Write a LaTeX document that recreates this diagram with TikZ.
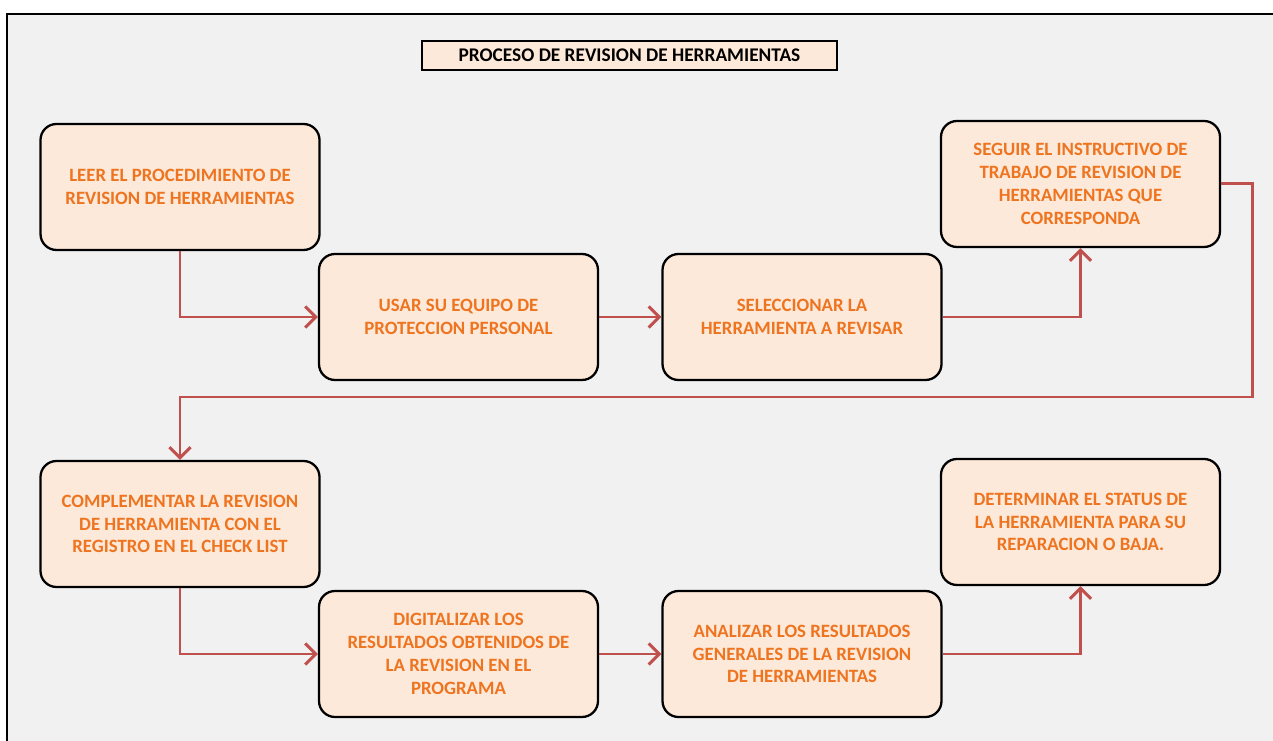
\documentclass[tikz,border=0pt]{standalone}
\usepackage{fontspec}
\setmainfont{Carlito}
\usepackage{xcolor}
\usetikzlibrary{arrows.meta}
\definecolor{boxfill}{HTML}{FDE9D9}
\definecolor{boxtext}{HTML}{EE7420}
\definecolor{flowred}{HTML}{C0504D}
\definecolor{paper}{HTML}{F1F1F1}

\begin{document}
\begin{tikzpicture}[
    stepbox/.style={draw, line width=1.3pt, rounded corners=0.32cm, fill=boxfill,
        minimum width=5.58cm, minimum height=2.52cm, align=center,
        text=boxtext, font=\fontsize{10.7}{13}\selectfont\bfseries},
    titlebox/.style={draw, line width=1.3pt, fill=boxfill, minimum width=8.3cm,
        minimum height=0.58cm, inner sep=0pt, font=\fontsize{11}{13}\selectfont\bfseries},
    flow/.style={draw=flowred, line width=1.7pt, -{Straight Barb[length=6pt,width=12pt,line width=1.7pt]}}
]
        \useasboundingbox (0, 0) rectangle (25.46, -14.82);
        \fill [paper] (0.14, -0.28) rectangle (25.46, -14.82);
        \draw [line width=1.3pt] (0.14, -14.82) -- (0.14, -0.28) -- (25.46, -0.28);
        \node (title) at (12.59, -1.11) [titlebox] {PROCESO DE REVISION DE HERRAMIENTAS};
        \node (b1) at (3.6, -3.74) [stepbox] {LEER EL PROCEDIMIENTO DE\\REVISION DE HERRAMIENTAS};
        \node (b2) at (9.17, -6.34) [stepbox] {USAR SU EQUIPO DE\\PROTECCION PERSONAL};
        \node (b3) at (16.04, -6.34) [stepbox] {SELECCIONAR LA\\HERRAMIENTA A REVISAR};
        \node (b4) at (21.61, -3.68) [stepbox] {SEGUIR EL INSTRUCTIVO DE\\TRABAJO DE REVISION DE\\HERRAMIENTAS QUE\\CORRESPONDA};
        \node (b5) at (3.6, -10.48) [stepbox] {COMPLEMENTAR LA REVISION\\DE HERRAMIENTA CON EL\\REGISTRO EN EL CHECK LIST};
        \node (b6) at (9.17, -13.08) [stepbox] {DIGITALIZAR LOS\\RESULTADOS OBTENIDOS DE\\LA REVISION EN EL\\PROGRAMA};
        \node (b7) at (16.04, -13.08) [stepbox] {ANALIZAR LOS RESULTADOS\\GENERALES DE LA REVISION\\DE HERRAMIENTAS};
        \node (b8) at (21.61, -10.44) [stepbox] {DETERMINAR EL STATUS DE\\LA HERRAMIENTA PARA SU\\REPARACION O BAJA.};
        \coordinate (turn) at (25.04, -7.94);
        \draw [flow] (b1.south) |- (b2.west);
        \draw [flow] (b2.east) -- (b3.west);
        \draw [flow] (b3.east) -| (b4.south);
        \draw [flow] (b4.east) -| (turn) -| (b5.north);
        \draw [flow] (b5.south) |- (b6.west);
        \draw [flow] (b6.east) -- (b7.west);
        \draw [flow] (b7.east) -| (b8.south);
    \end{tikzpicture}
\end{document}
